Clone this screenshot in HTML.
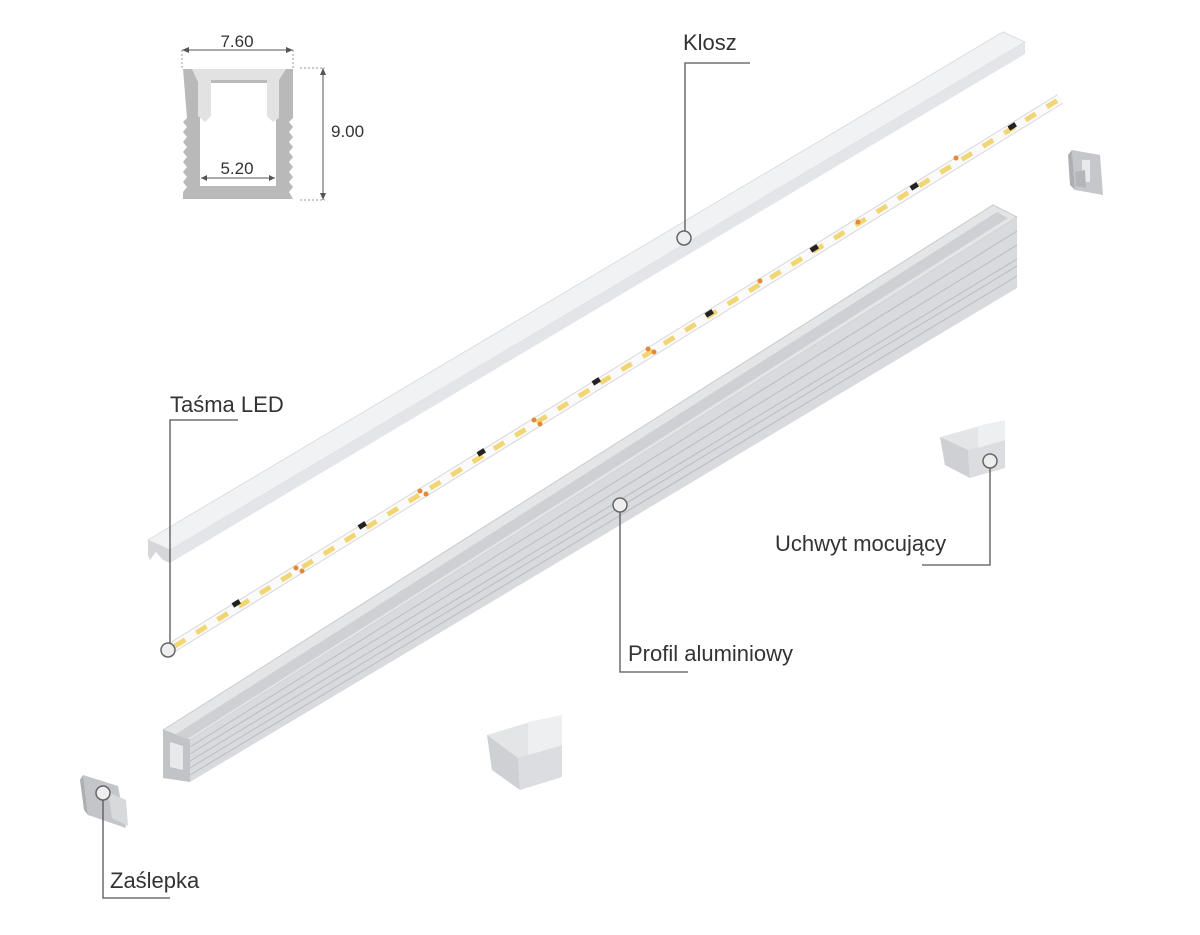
<!DOCTYPE html>
<html><head><meta charset="utf-8"><style>
html,body{margin:0;padding:0;background:#fff;}
svg{display:block;}
text{font-family:"Liberation Sans",sans-serif;fill:#333;}
</style></head><body>
<svg width="1200" height="935" viewBox="0 0 1200 935" xmlns="http://www.w3.org/2000/svg">
<!-- cross-section -->
<g>
<line x1="182" y1="50" x2="293" y2="50" stroke="#555" stroke-width="1"/>
<polygon points="182,50 189,47 189,53" fill="#555"/><polygon points="293,50 286,47 286,53" fill="#555"/>
<line x1="182" y1="50" x2="182" y2="68" stroke="#999" stroke-dasharray="2,2"/>
<line x1="293" y1="50" x2="293" y2="68" stroke="#999" stroke-dasharray="2,2"/>
<text x="237" y="47" font-size="17" text-anchor="middle">7.60</text>
<path d="M183,69 H293 V118 L289,122 L293,127 L289,132 L293,137 L289,142 L293,147 L289,152 L293,157 L289,162 L293,167 L289,172 L293,177 L289,182 L293,187 L289,192 L293,199 H183 V192 L187,187 L183,182 L187,177 L183,172 L187,167 L183,162 L187,157 L183,152 L187,147 L183,142 L187,137 L183,132 L187,127 L183,122 L187,118 Z" fill="#b9b9b9"/>
<path d="M200,83 H276 V186 H200 Z" fill="#fff"/>
<path d="M192,69 H286 L279,80 V118 L273,122 L267,116 V80 H211 V116 L205,122 L198,116 V82 Z" fill="#e2e2e2"/>
<line x1="300" y1="68" x2="325" y2="68" stroke="#999" stroke-dasharray="2,2"/>
<line x1="300" y1="200" x2="325" y2="200" stroke="#999" stroke-dasharray="2,2"/>
<line x1="323" y1="68" x2="323" y2="200" stroke="#555"/>
<polygon points="323,68 320,75 326,75" fill="#555"/><polygon points="323,200 320,193 326,193" fill="#555"/>
<text x="331" y="137" font-size="17">9.00</text>
<line x1="201" y1="178" x2="275" y2="178" stroke="#555"/>
<polygon points="201,178 207,175 207,181" fill="#555"/><polygon points="275,178 269,175 269,181" fill="#555"/>
<text x="237" y="174" font-size="17" text-anchor="middle">5.20</text>
</g>
<!-- Klosz -->
<polygon points="148,540 1003,32 1025,42 170,550" fill="#f1f2f3" stroke="#dcdde0" stroke-width="1"/>
<polygon points="170,550 1025,42 1025,54 170,563" fill="#e3e5e8"/>
<polygon points="148,540 170,550 170,563 163,560 156,552 150,560 148,556" fill="#d5d7da"/>
<!-- Profile -->
<polygon points="163,730 993,205 1017,217 190,740" fill="#e4e5e7" stroke="#c9cacc"/>
<polygon points="176,734 997,212 1008,218 186,740" fill="#cfd0d3"/>
<polygon points="190,740 1017,217 1017,288 190,782" fill="#d9dadd"/>
<g stroke="#bbbcbf" stroke-width="1">
<line x1="190" y1="747" x2="1017" y2="231"/><line x1="190" y1="754" x2="1017" y2="245"/>
<line x1="190" y1="761" x2="1017" y2="259"/><line x1="190" y1="768" x2="1017" y2="266"/>
<line x1="190" y1="775" x2="1017" y2="276"/>
</g>
<polygon points="163,730 190,740 190,782 163,778" fill="#c2c3c6"/>
<polygon points="170,742 183,746 183,770 170,767" fill="#e8e9eb"/>
<!-- LED strip -->
<line x1="168" y1="650" x2="1060" y2="99" stroke="#d8d8d8" stroke-width="11" stroke-linecap="butt"/>
<line x1="168" y1="650" x2="1060" y2="99" stroke="#fafafa" stroke-width="9"/>
<line x1="175" y1="646" x2="1058" y2="100" stroke="#f2d675" stroke-width="5" stroke-dasharray="12,13"/>
<g fill="#222">
<rect x="232" y="601" width="8" height="5" transform="rotate(-32 236 603)"/>
<rect x="358" y="523" width="8" height="5" transform="rotate(-32 362 525)"/>
<rect x="477" y="450" width="8" height="5" transform="rotate(-32 481 452)"/>
<rect x="592" y="379" width="8" height="5" transform="rotate(-32 596 381)"/>
<rect x="705" y="311" width="8" height="5" transform="rotate(-32 709 313)"/>
<rect x="810" y="246" width="8" height="5" transform="rotate(-32 814 248)"/>
<rect x="910" y="184" width="8" height="5" transform="rotate(-32 914 186)"/>
<rect x="1008" y="124" width="8" height="5" transform="rotate(-32 1012 126)"/>
</g>
<g fill="#e08a3a">
<circle cx="296" cy="568" r="2.5"/><circle cx="302" cy="571" r="2.5"/>
<circle cx="420" cy="491" r="2.5"/><circle cx="426" cy="494" r="2.5"/>
<circle cx="534" cy="420" r="2.5"/><circle cx="540" cy="424" r="2.5"/>
<circle cx="648" cy="349" r="2.5"/><circle cx="654" cy="352" r="2.5"/>
<circle cx="760" cy="281" r="2.5"/><circle cx="858" cy="222" r="2.5"/><circle cx="956" cy="158" r="2.5"/>
</g>
<!-- clips -->
<g>
<!-- right clip -->
<polygon points="940,437 980,426 980,455 945,465" fill="#e4e5e7"/>
<polygon points="940,437 945,465 970,478 968,450" fill="#cfd0d3"/>
<polygon points="968,450 1005,440 1005,468 970,478" fill="#dcdde0"/>
<polygon points="978,426 1005,420 1005,440 978,448" fill="#eeeff0"/>
<!-- top end cap -->
<polygon points="1072,150 1100,155 1103,195 1075,190" fill="#c6c7ca"/>
<polygon points="1068,155 1072,150 1075,190 1070,185" fill="#aeafb2"/>
<rect x="1082" y="160" width="8" height="22" fill="#e8e9eb"/>
<polygon points="1075,172 1085,170 1086,188 1076,186" fill="#b5b6b9"/>
<!-- bottom clip -->
<polygon points="487,735 530,722 530,757 492,770" fill="#e4e5e7"/>
<polygon points="487,735 492,770 520,790 518,758" fill="#cfd0d3"/>
<polygon points="518,758 562,745 562,777 520,790" fill="#dcdde0"/>
<polygon points="528,722 562,715 562,745 528,755" fill="#eeeff0"/>
<!-- zaslepka -->
<polygon points="83,775 118,786 126,828 88,815" fill="#c4c5c8"/>
<polygon points="80,780 83,775 88,815 84,810" fill="#aeafb2"/>
<polygon points="108,792 126,800 128,826 112,818" fill="#d8d9db"/>
</g>
<!-- leaders -->
<g stroke="#555" stroke-width="1.3" fill="none">
<polyline points="750,63 685,63 685,232"/>
<polyline points="238,420 170,420 170,644"/>
<polyline points="990,467 990,565 922,565"/>
<polyline points="620,511 620,672 688,672"/>
<polyline points="103,799 103,898 170,898"/>
</g>
<g fill="#eee" stroke="#666" stroke-width="1.5">
<circle cx="684" cy="238" r="7"/><circle cx="168" cy="650" r="7"/>
<circle cx="990" cy="461" r="7"/><circle cx="620" cy="505" r="7"/><circle cx="103" cy="793" r="7"/>
</g>
<g font-size="22">
<text x="683" y="50">Klosz</text>
<text x="170" y="412">Taśma LED</text>
<text x="775" y="551">Uchwyt mocujący</text>
<text x="628" y="661">Profil aluminiowy</text>
<text x="110" y="888">Zaślepka</text>
</g>
</svg>
</body></html>
